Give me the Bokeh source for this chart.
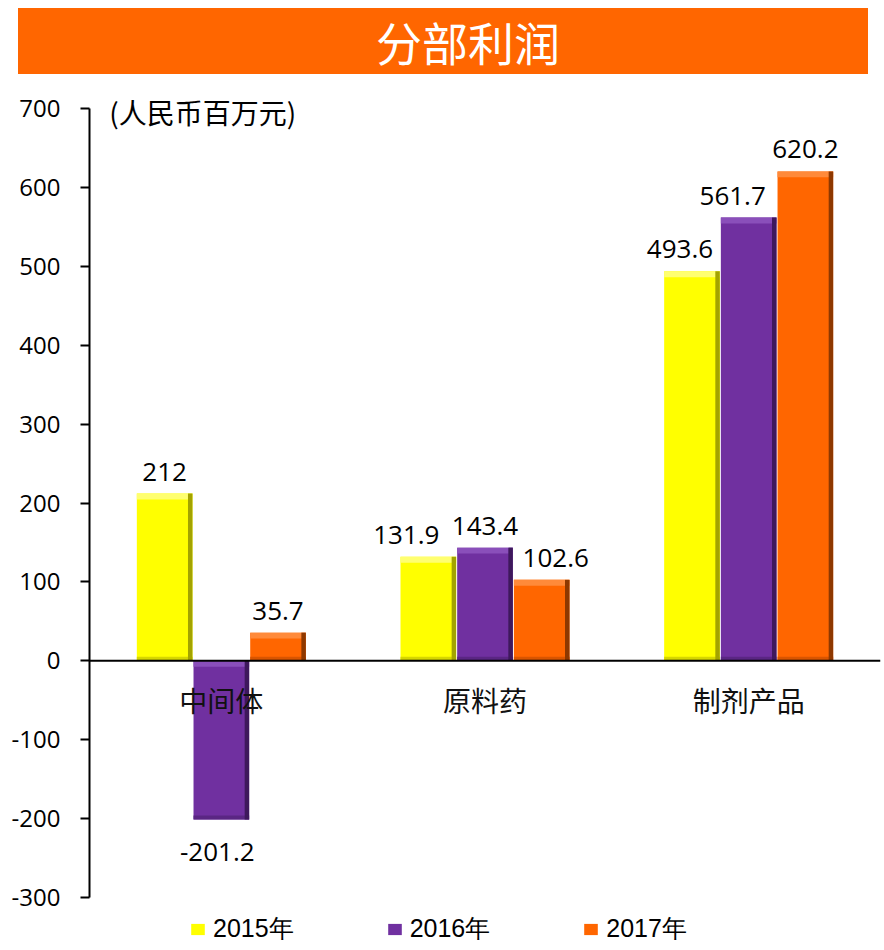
from bokeh.plotting import figure
from bokeh.models import (ColumnDataSource, FactorRange, Range1d, Span, Legend, LegendItem,
                          FixedTicker, LinearAxis, Div, PrintfTickFormatter)
from bokeh.transform import dodge
from bokeh.layouts import column
from bokeh.core.properties import value
from bokeh.embed import file_html
from bokeh.resources import INLINE

# ---- data ----
title_text = "分部利润"
unit_text = "(人民币百万元)"
categories = ["中间体", "原料药", "制剂产品"]
series_names = ["2015年", "2016年", "2017年"]
v2015 = [212, 131.9, 493.6]
v2016 = [-201.2, 143.4, 561.7]
v2017 = [35.7, 102.6, 620.2]
label2015 = ["212", "131.9", "493.6"]
label2016 = ["-201.2", "143.4", "561.7"]
label2017 = ["35.7", "102.6", "620.2"]
y_ticks = [-300, -200, -100, 0, 100, 200, 300, 400, 500, 600, 700]

# ---- style ----
main_colors = ["#FFFF00", "#7030A0", "#FF6600"]
light_colors = ["#FFFF70", "#8A4FBA", "#FF8A3A"]
bottom_colors = ["#D6D600", "#5A2683", "#D95500"]
dark_colors = ["#A3A300", "#3E185C", "#8E3800"]
offsets = [-0.215, 0.0, 0.215]
label_dx = [[0, -22, -12], [-4, 0, -16], [0, 14, 0]]
BAR_W = 0.211
STRIP_W = 0.017
TOP_H = 7.5
BOT_H = 5.0

p = figure(width=876, height=868, x_range=FactorRange(*categories, range_padding=0),
           y_range=Range1d(-357, 730.4), output_backend="svg", toolbar_location=None,
           x_axis_location=None, y_axis_location=None,
           min_border_left=80, min_border_right=4, min_border_top=10, min_border_bottom=0,
           margin=(0, 0, 0, 8))
p.outline_line_color = None
p.xgrid.visible = False
p.ygrid.visible = False

yaxis = LinearAxis(bounds=(-300, 700), ticker=FixedTicker(ticks=y_ticks),
                   formatter=PrintfTickFormatter(format="%d"))
yaxis.axis_line_color = "black"
yaxis.axis_line_width = 2
yaxis.major_tick_in = 0
yaxis.major_tick_out = 9
yaxis.major_tick_line_width = 2
yaxis.minor_tick_line_color = None
yaxis.major_label_standoff = 20
yaxis.major_label_text_font = "Open Sans"
yaxis.major_label_text_font_size = "24px"
yaxis.major_label_text_color = "black"
p.add_layout(yaxis, "left")

series_vals = [v2015, v2016, v2017]
series_labels = [label2015, label2016, label2017]
legend_items = []
for i, (vals, labs) in enumerate(zip(series_vals, series_labels)):
    hi = [max(v, 0) for v in vals]
    lo = [min(v, 0) for v in vals]
    src = ColumnDataSource(dict(cat=categories, val=vals, hi=hi, lo=lo,
                                hi_in=[h - TOP_H for h in hi], lo_in=[l + BOT_H for l in lo],
                                lab=labs, dx=label_dx[i],
                                dy=[-22 if v > 0 else 32 for v in vals]))
    xd = dodge("cat", offsets[i], range=p.x_range)
    r = p.vbar(x=xd, top="hi", bottom="lo", width=BAR_W, source=src,
               fill_color=main_colors[i], line_color=None)
    p.vbar(x=xd, top="hi", bottom="hi_in", width=BAR_W, source=src,
           fill_color=light_colors[i], line_color=None)
    p.vbar(x=xd, top="lo_in", bottom="lo", width=BAR_W, source=src,
           fill_color=bottom_colors[i], line_color=None)
    xr = dodge("cat", offsets[i] + BAR_W / 2 - STRIP_W / 2, range=p.x_range)
    p.vbar(x=xr, top="hi", bottom="lo", width=STRIP_W, source=src,
           fill_color=dark_colors[i], line_color=None)
    p.text(x=xd, y="val", text="lab", source=src, x_offset="dx", y_offset="dy",
           text_align="center", text_baseline="middle", text_font=value("Open Sans"),
           text_font_size="26px", text_color="black")
    legend_items.append(LegendItem(label=series_names[i], renderers=[r]))

p.add_layout(Span(location=0, dimension="width", line_color="black", line_width=2))

cat_src = ColumnDataSource(dict(cat=categories, y=[0] * len(categories)))
p.text(x="cat", y="y", text="cat", source=cat_src, y_offset=39, text_align="center",
       text_baseline="middle", text_font=value("Noto Sans CJK SC"), text_font_size="28px",
       text_color="#111111")

unit_src = ColumnDataSource(dict(x=[categories[0]], y=[y_ticks[-1]], t=[unit_text]))
p.text(x="x", y="y", text="t", source=unit_src, x_offset=-112, y_offset=4,
       text_align="left", text_baseline="middle", text_font=value("Noto Sans CJK SC"),
       text_font_size="28px", text_color="black")

legend = Legend(items=legend_items, orientation="horizontal", location=(100, -3),
                glyph_width=17, glyph_height=14, label_standoff=7, spacing=92,
                label_text_font="Liberation Sans", label_text_font_size="25px",
                label_text_color="black",
                padding=0, margin=0, border_line_color=None, background_fill_alpha=0)
p.add_layout(legend, "center")

banner = Div(text=('<div style="width:850px;height:66px;background:#FF6600;color:white;'
                   'font-family:\'Noto Sans CJK SC\';font-weight:normal;font-size:46px;'
                   'line-height:66px;text-align:center;box-sizing:border-box;padding-left:50px;">'
                   + title_text + '</div>'),
             width=850, height=66, margin=(8, 0, 0, 18))

layout = column(banner, p, spacing=0)
open("out.html", "w").write(file_html(layout, INLINE))
